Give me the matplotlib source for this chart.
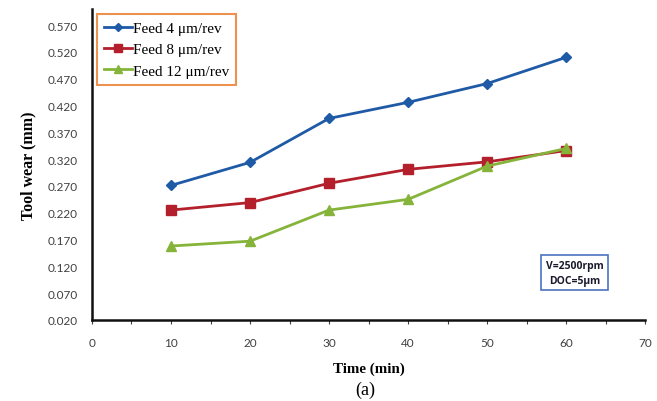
import matplotlib
matplotlib.use("Agg")
import matplotlib.pyplot as plt
from matplotlib.ticker import MultipleLocator, FormatStrFormatter

time_min = [10, 20, 30, 40, 50, 60]
feed4 = [0.271, 0.314, 0.396, 0.426, 0.461, 0.510]
feed8 = [0.225, 0.239, 0.275, 0.301, 0.315, 0.336]
feed12 = [0.158, 0.167, 0.225, 0.245, 0.307, 0.340]
labels = ["Feed 4 \u03bcm/rev", "Feed 8 \u03bcm/rev", "Feed 12 \u03bcm/rev"]
yticks = [0.020, 0.070, 0.120, 0.170, 0.220, 0.270, 0.320, 0.370, 0.420, 0.470, 0.520, 0.570]
xticks = [0, 10, 20, 30, 40, 50, 60, 70]

fig = plt.figure(figsize=(6.57, 4.02), dpi=100)
ax = fig.add_axes([0.140, 0.2015, 0.842, 0.7735])

ax.plot(time_min, feed4, color="#1F5AA6", lw=2, marker="D", ms=5, label=labels[0])
ax.plot(time_min, feed8, color="#B3202C", lw=2, marker="s", ms=7, label=labels[1])
ax.plot(time_min, feed12, color="#86B43A", lw=2, marker="^", ms=7, label=labels[2])

ax.set_xlim(0, 70)
ax.set_ylim(0.02, 0.60)
ax.set_xticks(xticks)
ax.set_yticks(yticks)
ax.xaxis.set_minor_locator(MultipleLocator(5))
ax.yaxis.set_major_formatter(FormatStrFormatter("%.3f"))
for s in ["top", "right"]:
    ax.spines[s].set_visible(False)
for s in ["left", "bottom"]:
    ax.spines[s].set_linewidth(1.8)
    ax.spines[s].set_color("#111111")
ax.tick_params(axis="both", which="both", direction="out", length=3, width=0.8, colors="#404040",
               labelsize=8.5, labelcolor="#404040")
ax.tick_params(axis="y", length=0, pad=10)
ax.tick_params(axis="x", pad=9)
for t in ax.get_xticklabels() + ax.get_yticklabels():
    t.set_family("Lato")

ax.set_xlabel("Time (min)", family="Liberation Serif", fontweight="bold", fontsize=10.8, labelpad=10)
ax.set_ylabel("Tool wear (mm)", family="Liberation Serif", fontweight="bold", fontsize=11.5, labelpad=8)

leg = ax.legend(loc="upper left", bbox_to_anchor=(0.0, 1.0), prop={"family": "Liberation Serif", "size": 11},
                frameon=True, fancybox=False, handlelength=1.85, handletextpad=0.05, borderpad=0.45,
                labelspacing=0.5, borderaxespad=0.35, markerscale=0.8)
leg.get_frame().set_edgecolor("#E87722")
leg.get_frame().set_linewidth(1.5)

ax.text(0.873, 0.152, "V=2500rpm\nDOC=5\u03bcm", transform=ax.transAxes, ha="center", va="center",
        fontsize=7.5, fontweight="bold", family="Open Sans", color="#1a1a2e", linespacing=1.45,
        bbox=dict(boxstyle="square,pad=0.45", fc="white", ec="#4A72C0", lw=1.2))

fig.text(0.556, 0.030, "(a)", family="Liberation Serif", fontsize=13, ha="center", va="center")

fig.savefig("out.png", dpi=100)
